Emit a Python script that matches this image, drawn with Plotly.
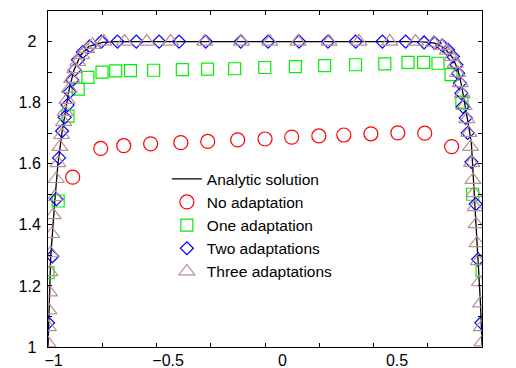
import plotly.graph_objects as go

# ---- data ----
analytic_x = [-1.0, -0.9945, -0.9876, -0.969, -0.954, -0.934, -0.918, -0.903, -0.880, -0.849,
              -0.811, -0.749, -0.688, 0.713, 0.782, 0.828, 0.866, 0.889, 0.905, 0.920,
              0.935, 0.951, 0.966, 0.982, 0.993, 1.0]
analytic_y = [1.0, 1.153, 1.295, 1.475, 1.601, 1.710, 1.776, 1.842, 1.907, 1.956,
              1.984, 1.997, 2.0, 2.0, 1.995, 1.978, 1.946, 1.907, 1.858, 1.803,
              1.738, 1.667, 1.492, 1.295, 1.142, 1.006]

no_x = [-0.886, -0.757, -0.651, -0.527, -0.388, -0.264, -0.126, 0.0, 0.123, 0.248,
        0.363, 0.488, 0.612, 0.736, 0.860]
no_y = [1.556, 1.650, 1.659, 1.665, 1.669, 1.673, 1.678, 1.681, 1.687, 1.691,
        1.694, 1.698, 1.701, 1.700, 1.656]

one_x = [-1.0, -0.953, -0.908, -0.861, -0.816, -0.751, -0.688, -0.620, -0.513, -0.381,
         -0.265, -0.140, -0.001, 0.140, 0.275, 0.417, 0.552, 0.659, 0.731, 0.797,
         0.857, 0.907, 0.957, 1.0]
one_y = [1.243, 1.478, 1.756, 1.844, 1.883, 1.900, 1.904, 1.905, 1.906, 1.908,
         1.910, 1.911, 1.915, 1.918, 1.921, 1.924, 1.927, 1.932, 1.932, 1.929,
         1.892, 1.802, 1.500, 1.251]

two_x = [-1.0, -0.980, -0.961, -0.949, -0.935, -0.923, -0.910, -0.900, -0.888, -0.877,
         -0.862, -0.839, -0.808, -0.754, -0.680, -0.593, -0.488, -0.396, -0.273, -0.112,
         0.014, 0.157, 0.290, 0.418, 0.541, 0.648, 0.733, 0.782, 0.817, 0.843,
         0.866, 0.882, 0.890, 0.898, 0.905, 0.912, 0.925, 0.934, 0.951, 0.971,
         0.982, 0.997]
two_y = [1.079, 1.297, 1.484, 1.619, 1.707, 1.752, 1.792, 1.835, 1.874, 1.907,
         1.940, 1.966, 1.984, 2.0, 2.0, 2.0, 2.0, 2.0, 2.0, 2.0,
         2.0, 2.0, 2.0, 2.0, 2.0, 2.0, 1.997, 1.995, 1.987, 1.973,
         1.951, 1.924, 1.896, 1.864, 1.831, 1.787, 1.750, 1.701, 1.606, 1.468,
         1.287, 1.079]

three_x = [-0.9995, -0.998, -0.996, -0.993, -0.991, -0.988, -0.983, -0.976, -0.969, -0.962,
           -0.954, -0.945, -0.937, -0.928, -0.921, -0.912, -0.902, -0.891, -0.877, -0.863,
           -0.845, -0.822, -0.794, -0.743, -0.647, -0.545, -0.435, -0.278, -0.109, 0.022,
           0.152, 0.295, 0.433, 0.575, 0.694, 0.777, 0.814, 0.840, 0.860, 0.876,
           0.888, 0.900, 0.909, 0.918, 0.930, 0.939, 0.947, 0.952, 0.958, 0.963,
           0.968, 0.973, 0.977, 0.983, 0.988, 0.993, 0.997, 0.9995]
three_y = [1.012, 1.065, 1.120, 1.179, 1.245, 1.307, 1.370, 1.432, 1.491, 1.550,
           1.602, 1.655, 1.694, 1.737, 1.770, 1.809, 1.845, 1.878, 1.910, 1.933,
           1.956, 1.976, 1.989, 2.0, 2.0, 2.0, 2.0, 2.0, 2.0, 2.0,
           2.0, 2.0, 2.0, 2.0, 2.0, 1.996, 1.986, 1.970, 1.950, 1.927,
           1.897, 1.864, 1.828, 1.789, 1.746, 1.701, 1.655, 1.603, 1.547, 1.504,
           1.458, 1.402, 1.340, 1.281, 1.212, 1.143, 1.065, 1.015]

x_ticks = [-1.0, -0.75, -0.5, -0.25, 0.0, 0.25, 0.5, 0.75, 1.0]
x_label_vals = [-1, -0.5, 0, 0.5, 1]
x_label_text = ["\u22121", "\u22120.5", "0", "0.5", "1"]
y_ticks = [1.0, 1.1, 1.2, 1.3, 1.4, 1.5, 1.6, 1.7, 1.8, 1.9, 2.0]
y_tick_text = ["1\u00a0", "", "1.2", "", "1.4", "", "1.6", "", "1.8", "", "2\u00a0"]

FONT = "Liberation Sans, Arial, Helvetica, sans-serif"

fig = go.Figure()
fig.add_trace(go.Scatter(x=analytic_x, y=analytic_y, mode="lines", name="Analytic solution",
                         line=dict(color="black", width=1.3)))
fig.add_trace(go.Scatter(x=no_x, y=no_y, mode="markers", name="No adaptation",
                         marker=dict(symbol="circle-open", size=14, color="#ff0000",
                                     line=dict(width=1.2, color="#ff0000"))))
fig.add_trace(go.Scatter(x=one_x, y=one_y, mode="markers", name="One adaptation",
                         marker=dict(symbol="square-open", size=12, color="#00ee00",
                                     line=dict(width=1.2, color="#00ee00"))))
fig.add_trace(go.Scatter(x=two_x, y=two_y, mode="markers", name="Two adaptations",
                         marker=dict(symbol="diamond-open", size=10, color="#0000ff",
                                     line=dict(width=1.2, color="#0000ff"))))
fig.add_trace(go.Scatter(x=three_x, y=three_y, mode="markers", name="Three adaptations",
                         marker=dict(symbol="triangle-up-open", size=14, color="#bc8f8f",
                                     line=dict(width=1.2, color="#bc8f8f"))))
# carrier trace for the tick-label axis
fig.add_trace(go.Scatter(x=[x_label_vals[0], x_label_vals[-1]], y=[None, None], xaxis="x2",
                         mode="markers", showlegend=False, hoverinfo="skip"))

# the page body adds an 8px offset, so the figure is 8px smaller and margins shifted
fig.update_layout(
    width=508, height=360, autosize=False,
    margin=dict(l=40, r=0, t=3, b=21, pad=0, autoexpand=False),
    paper_bgcolor="white", plot_bgcolor="rgba(0,0,0,0)",
    font=dict(family=FONT, size=16, color="black"),
    xaxis=dict(domain=[0, 0.9274], range=[-1, 1], tickmode="array", tickvals=x_ticks,
               showticklabels=False, ticks="inside", ticklen=4, tickcolor="black",
               showline=True, linecolor="black", linewidth=1, mirror="ticks",
               showgrid=False, zeroline=False, automargin=False),
    xaxis2=dict(domain=[0.012, 0.9904], range=[-1, 1], anchor="y", tickmode="array",
                tickvals=x_label_vals, ticktext=x_label_text, ticks="", showline=False,
                showgrid=False, zeroline=False, ticklabelstandoff=2,
                ticklabeloverflow="allow", automargin=False),
    yaxis=dict(range=[1, 2.1], tickmode="array", tickvals=y_ticks, ticktext=y_tick_text,
               ticks="inside", ticklen=4, tickcolor="black",
               showline=True, linecolor="black", linewidth=1, mirror="ticks",
               showgrid=False, zeroline=False, ticklabelstandoff=3, automargin=False),
    legend=dict(x=0.254, y=0.55, xanchor="left", yanchor="top",
                bgcolor="rgba(0,0,0,0)", borderwidth=0, font=dict(size=15.5)),
    showlegend=True,
)

fig.write_html("out.html")
